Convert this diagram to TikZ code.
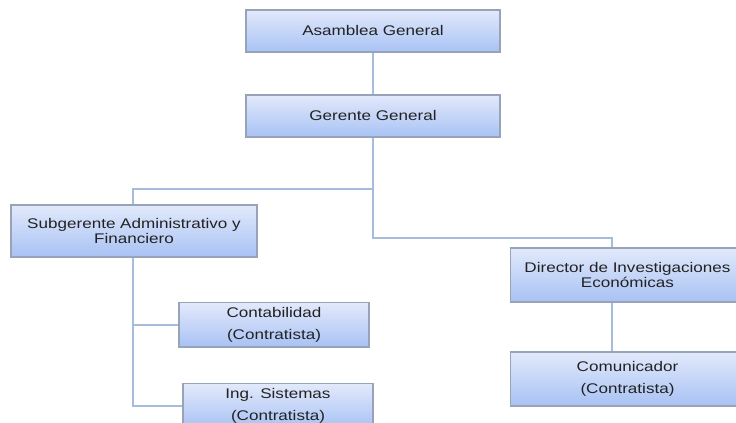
\documentclass[tikz,border=0pt]{standalone}
\usepackage{fontspec}
\setmainfont{Liberation Sans}[FakeStretch=1.22]
\usepackage{tikz}
\usetikzlibrary{shadows}
\usepackage{xcolor}
\definecolor{boxtop}{HTML}{E2E9FB}
\definecolor{boxbot}{HTML}{A8C2F4}
\definecolor{boxline}{HTML}{97A3B6}
\definecolor{linkline}{HTML}{A6BCDA}
\definecolor{txt}{HTML}{222222}
\tikzset{
	block/.style={draw=boxline, line width=0.8pt, top color=boxtop, bottom color=boxbot,
		align=center, text=txt, font=\fontsize{10.5}{11.6}\selectfont,
		drop shadow={shadow xshift=0.9pt, shadow yshift=-0.9pt, fill=black!40, opacity=0.55}},
	link/.style={draw=linkline, line width=0.9pt}
}

\begin{document}
\begin{tikzpicture}[x=0.75pt, y=-0.75pt]
		\useasboundingbox (0,0) rectangle (736,423);
		\fill[white] (0,0) rectangle (736,423);
		
		\node[block, minimum width=190.5pt, minimum height=31.5pt] (asamblea) at (373,31) {Asamblea General};
		\node[block, minimum width=190.5pt, minimum height=31.5pt] (gerente) at (373,116) {Gerente General};
		
		\node[block, minimum width=184.5pt, minimum height=39pt] (subgerente) at (134,231) {Subgerente Administrativo y\\Financiero};
		\node[block, minimum width=142.5pt, minimum height=33pt] (contabilidad) at (274,325) {Contabilidad\\[5pt](Contratista)};
		\node[block, minimum width=142.5pt, minimum height=33pt] (sistemas) at (278,406) {Ing. Sistemas\\[5pt](Contratista)};
		
		\node[block, minimum width=176pt, minimum height=40.5pt] (director) at (627.5,275) {Director de Investigaciones\\Económicas};
		\node[block, minimum width=176pt, minimum height=40.5pt] (comunicador) at (627.5,379) {Comunicador\\[5pt](Contratista)};
		
		\coordinate (subjoin) at (133,189);
		\coordinate (dirjoin) at (612,238);
		
		\draw[link] (asamblea.south) -- (gerente.north);
		\draw[link] (gerente.south) |- (subjoin) -- (subjoin |- subgerente.north);
		\draw[link] (gerente.south) |- (dirjoin) -- (dirjoin |- director.north);
		\draw[link] (dirjoin |- director.south) -- (dirjoin |- comunicador.north);
		\draw[link] (subjoin |- subgerente.south) |- (contabilidad.west);
		\draw[link] (subjoin |- subgerente.south) |- (sistemas.west);
\end{tikzpicture}
\end{document}
